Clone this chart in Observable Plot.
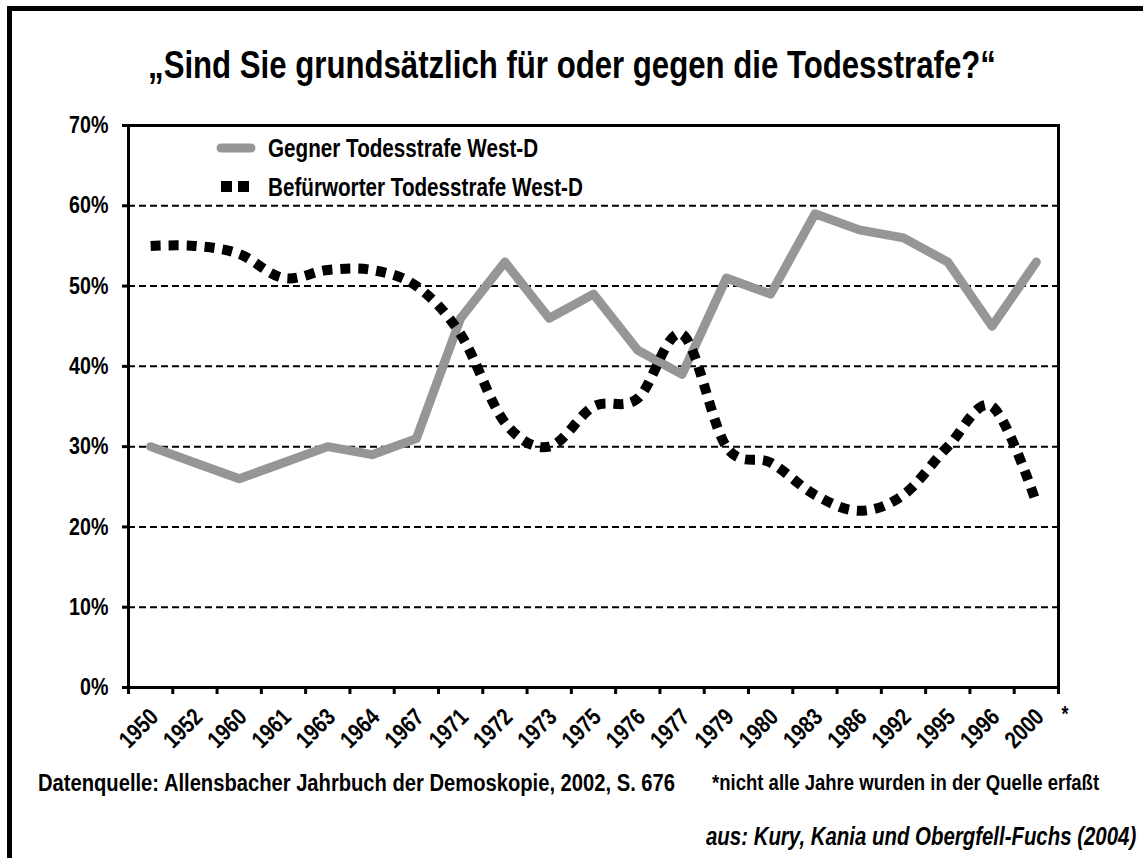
<!DOCTYPE html>
<html>
<head>
<meta charset="utf-8">
<script src="https://cdn.jsdelivr.net/npm/d3@7"></script>
<script src="https://cdn.jsdelivr.net/npm/@observablehq/plot@0.6"></script>
<style>
  html, body { margin: 0; padding: 0; background: #fff; }
  #page { position: relative; width: 1143px; height: 858px; overflow: hidden; background: #fff;
          font-family: "Liberation Sans", Arial, sans-serif; font-weight: bold; color: #000; }
  .bl { position: absolute; background: #000; }
  .txt { position: absolute; white-space: nowrap; line-height: 1; }
  .narrow { display: inline-block; transform: scaleX(0.82); transform-origin: left center; }
  #chart { position: absolute; left: 0; top: 100px; }
  .leg { position: absolute; left: 215px; height: 30px; display: flex; align-items: center; white-space: nowrap; }
</style>
</head>
<body>
<div id="page">
  <div class="bl" style="left:7px; top:6px; width:5px; height:852px;"></div>
  <div class="bl" style="left:7px; top:6px; width:1136px; height:5px;"></div>
  <div class="txt" style="left:0; width:1143px; text-align:center; top:46px; font-size:38px;">
    <span id="title" style="display:inline-block; transform:scaleX(0.82); transform-origin:center center;"></span>
  </div>
  <div id="chart"></div>
  <div class="leg" id="legend1" style="top:133px; font-size:25.2px;"></div>
  <div class="leg" id="legend2" style="top:172px; font-size:25.2px;"></div>
  <div class="txt" style="left:38px; top:771px; font-size:24.6px;"><span class="narrow" id="src"></span></div>
  <div class="txt" style="left:712px; top:772px; font-size:22.6px;"><span class="narrow" id="note"></span></div>
  <div class="txt" style="left:706px; top:824px; font-size:24.9px; font-style:italic;"><span class="narrow" id="cite"></span></div>
</div>
<script>
// ---- data ----
const years = ["1950","1952","1960","1961","1963","1964","1967","1971","1972","1973","1975","1976","1977","1979","1980","1983","1986","1992","1995","1996","2000"];
const gegner = [30, 28, 26, 28, 30, 29, 31, 46, 53, 46, 49, 42, 39, 51, 49, 59, 57, 56, 53, 45, 53];
const befuerworter = [55, 55, 54, 51, 52, 52, 50, 44, 33, 30, 35, 36, 44, 30, 28, 24, 22, 24, 30, 35, 23];
const yTicks = [0, 10, 20, 30, 40, 50, 60, 70];
const gridLines = [10, 20, 30, 40, 50, 60];
const seriesNames = ["Gegner Todesstrafe West-D", "Befürworter Todesstrafe West-D"];
const titleText = "„Sind Sie grundsätzlich für oder gegen die Todesstrafe?“";
const sourceText = "Datenquelle: Allensbacher Jahrbuch der Demoskopie, 2002, S. 676";
const noteText = "*nicht alle Jahre wurden in der Quelle erfaßt";
const citeText = "aus: Kury, Kania und Obergfell-Fuchs (2004)";

const GRAY = "#969696";
const NARROW = 0.82;

const rowsG = years.map((y, i) => ({pos: i + 0.5, year: y, value: gegner[i]}));
const rowsB = years.map((y, i) => ({pos: i + 0.5, year: y, value: befuerworter[i]}));
const boundaries = d3.range(years.length + 1);

const chart = Plot.plot({
  width: 1143,
  height: 660,
  marginTop: 25,
  marginBottom: 73,
  marginLeft: 128,
  marginRight: 85,
  style: {fontFamily: '"Liberation Sans", Arial, sans-serif', fontWeight: "bold", color: "#000", background: "transparent"},
  x: {domain: [0, years.length], axis: null},
  y: {domain: [0, 70], axis: null},
  marks: [
    Plot.ruleY(gridLines, {stroke: "#000", strokeWidth: 2, strokeDasharray: "7,4"}),
    Plot.line(rowsG, {x: "pos", y: "value", stroke: GRAY, strokeWidth: 9}),
    Plot.line(rowsB, {x: "pos", y: "value", stroke: "#000", strokeWidth: 10, strokeDasharray: "10,8", strokeLinecap: "butt", strokeLinejoin: "miter", curve: "cardinal"}),
    Plot.frame({stroke: "#000", strokeWidth: 3}),
    Plot.axisY({ticks: yTicks, label: null, tickSize: 6, tickPadding: 14, strokeWidth: 3, fontSize: 24, tickFormat: d => d + "%"}),
    Plot.axisX({ticks: boundaries, label: null, tickSize: 7, strokeWidth: 3, tickFormat: () => ""}),
    Plot.text(rowsG, {x: "pos", text: "year", frameAnchor: "bottom", rotate: -45, textAnchor: "end", dx: 9, dy: 31, fontSize: 24}),
    Plot.text(["*"], {frameAnchor: "bottom-right", textAnchor: "start", dx: 3, dy: 33, fontSize: 22})
  ]
});

// emulate a narrow (condensed) bold face on every SVG text: scale each text horizontally about its own anchor
chart.querySelectorAll("text").forEach(t => {
  const tr = t.getAttribute("transform");
  const x = t.getAttribute("x");
  if (tr) {
    t.setAttribute("transform", tr + ` scale(${NARROW},1)`);
  } else if (x != null && !isNaN(+x)) {
    t.setAttribute("transform", `translate(${+x},0) scale(${NARROW},1)`);
    t.setAttribute("x", 0);
  } else {
    t.setAttribute("transform", `scale(${NARROW},1)`);
  }
});
document.getElementById("chart").appendChild(chart);

document.getElementById("title").textContent = titleText;
document.getElementById("src").textContent = sourceText;
document.getElementById("note").textContent = noteText;
document.getElementById("cite").textContent = citeText;

document.getElementById("legend1").innerHTML =
  `<svg width="42" height="20"><line x1="6" x2="36" y1="10" y2="10" stroke="${GRAY}" stroke-width="9" stroke-linecap="round"/></svg>` +
  `<span class="narrow" style="margin-left:11px">${seriesNames[0]}</span>`;
document.getElementById("legend2").innerHTML =
  `<svg width="42" height="20"><rect x="6" y="4" width="11" height="11" fill="#000"/><rect x="23" y="4" width="11" height="11" fill="#000"/></svg>` +
  `<span class="narrow" style="margin-left:11px">${seriesNames[1]}</span>`;
</script>
</body>
</html>
